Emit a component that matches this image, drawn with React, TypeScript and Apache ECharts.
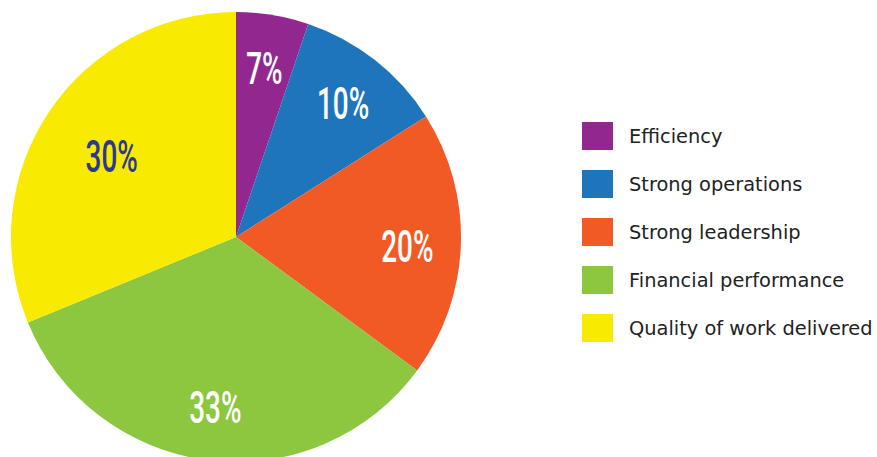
import React, { useEffect, useRef } from "react";
import * as echarts from "echarts";

const categories = [
  "Efficiency",
  "Strong operations",
  "Strong leadership",
  "Financial performance",
  "Quality of work delivered",
];
// slice sizes (percent of the circle)
const sliceValues = [5.2, 10.8, 19.1, 33.7, 31.2];
// printed labels
const sliceLabels = ["7%", "10%", "20%", "33%", "30%"];
const colors = ["#92278f", "#1f75bb", "#f15a24", "#8dc63f", "#f8ea00"];
const labelColors = ["#ffffff", "#ffffff", "#ffffff", "#ffffff", "#2b3990"];

const CX = 236;
const CY = 237;
const R = 225;
// distance of each label from the centre, as a share of the radius (layout)
const labelRadiusShare = [0.775, 0.77, 0.762, 0.75, 0.665];

export default function App() {
  const ref = useRef<HTMLDivElement>(null);
  useEffect(() => {
    document.body.style.margin = "0";
    const chart = echarts.init(ref.current!, null, { renderer: "svg" });
    const data = categories.map((name, i) => ({
      name,
      value: sliceValues[i],
      itemStyle: { color: colors[i] },
    }));
    const total = sliceValues.reduce((a, b) => a + b, 0);
    let acc = 0;
    const labelData = sliceValues.map((v, i) => {
      const mid = ((acc + v / 2) / total) * 100;
      acc += v;
      return [labelRadiusShare[i] * R, mid, i];
    });
    chart.setOption({
      animation: false,
      backgroundColor: "#ffffff",
      polar: { center: [CX, CY], radius: R },
      angleAxis: {
        type: "value",
        min: 0,
        max: 100,
        startAngle: 90,
        clockwise: true,
        show: false,
      },
      radiusAxis: { type: "value", min: 0, max: R, show: false },
      legend: {
        orient: "vertical",
        left: 577,
        top: 117,
        itemWidth: 31,
        itemHeight: 28,
        itemGap: 20,
        icon: "rect",
        selectedMode: false,
        data: categories,
        textStyle: {
          fontFamily: "DejaVu Sans",
          fontSize: 19.4,
          color: "#222222",
          padding: [0, 0, 0, 11],
        },
      },
      series: [
        {
          type: "pie",
          center: [CX, CY],
          radius: [0, R],
          startAngle: 90,
          clockwise: true,
          silent: true,
          label: { show: false },
          labelLine: { show: false },
          itemStyle: { borderWidth: 0 },
          data,
        },
        {
          type: "custom",
          coordinateSystem: "polar",
          silent: true,
          z: 5,
          data: labelData,
          renderItem: (params: any, api: any) => {
            const i = api.value(2);
            const pt = api.coord([api.value(0), api.value(1)]);
            return {
              type: "text",
              x: pt[0],
              y: pt[1] + 3,
              scaleX: 0.62,
              style: {
                text: sliceLabels[i],
                fill: labelColors[i],
                font: "500 45px Roboto",
                align: "center",
                verticalAlign: "middle",
              },
            };
          },
        },
      ],
    });
    return () => chart.dispose();
  }, []);
  return (
    <div
      ref={ref}
      style={{ position: "fixed", left: 0, top: 0, width: 877, height: 457 }}
    />
  );
}
